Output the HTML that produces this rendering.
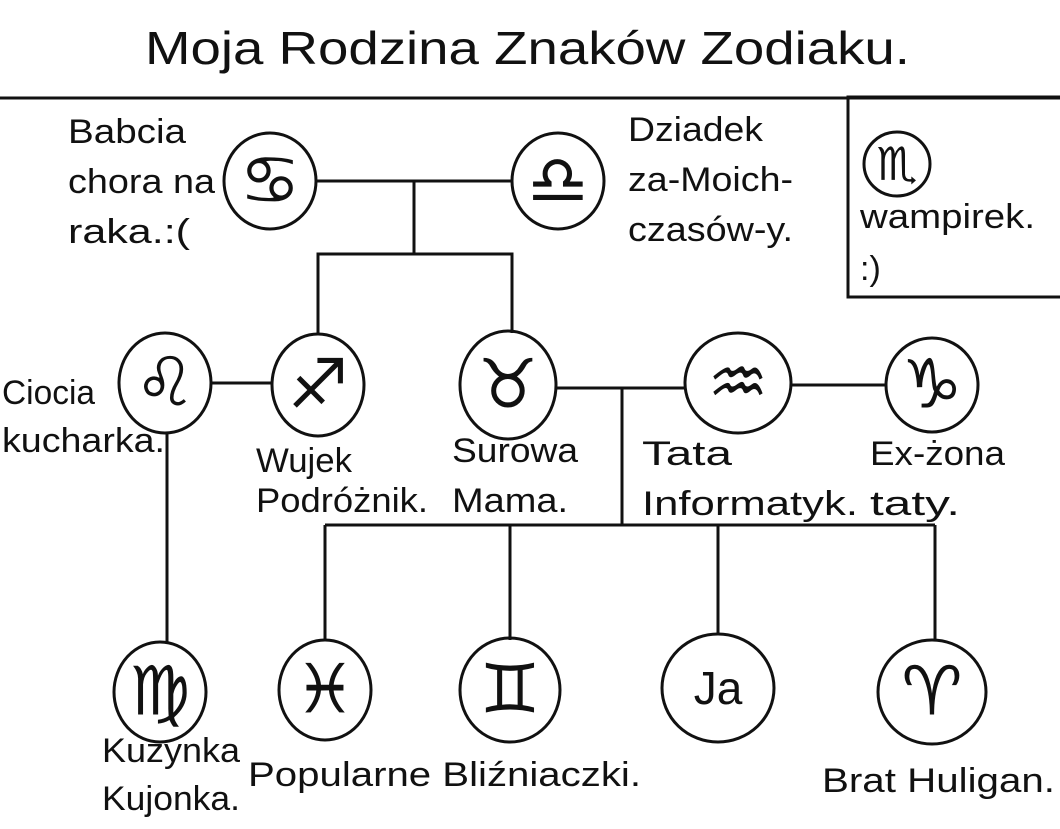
<!DOCTYPE html>
<html><head><meta charset="utf-8"><style>
html,body{margin:0;padding:0;background:#fff;}
svg{display:block}
text{font-family:"Liberation Sans","DejaVu Sans",sans-serif;fill:#111;}
.l{font-size:34px;}
.s{font-family:"DejaVu Sans",sans-serif;font-size:68px;text-anchor:middle;dominant-baseline:central;}
</style></head><body>
<svg width="1060" height="829" viewBox="0 0 1060 829" xmlns="http://www.w3.org/2000/svg">
<g stroke="#111" stroke-width="3" fill="none">
<line x1="0" y1="98" x2="1060" y2="98"/>
<polyline points="1060,97 848,97 848,297 1060,297"/>
<ellipse cx="270" cy="181" rx="46" ry="48"/>
<ellipse cx="558" cy="181" rx="46" ry="48"/>
<line x1="316" y1="181" x2="512" y2="181"/>
<line x1="414" y1="181" x2="414" y2="254"/>
<polyline points="318,335 318,254 512,254 512,333"/>
<ellipse cx="165" cy="383" rx="46" ry="50"/>
<ellipse cx="318" cy="385" rx="46" ry="51"/>
<ellipse cx="508" cy="385" rx="48" ry="54"/>
<ellipse cx="738" cy="383" rx="53" ry="50"/>
<ellipse cx="932" cy="385" rx="46" ry="47"/>
<line x1="211" y1="383" x2="272" y2="383"/>
<line x1="556" y1="388" x2="685" y2="388"/>
<line x1="791" y1="385" x2="886" y2="385"/>
<line x1="622" y1="388" x2="622" y2="525"/>
<line x1="325" y1="525" x2="935" y2="525"/>
<line x1="325" y1="525" x2="325" y2="640"/>
<line x1="510" y1="525" x2="510" y2="640"/>
<line x1="718" y1="525" x2="718" y2="634"/>
<line x1="935" y1="525" x2="935" y2="640"/>
<line x1="167" y1="432" x2="167" y2="642"/>
<ellipse cx="160" cy="692" rx="46" ry="50"/>
<ellipse cx="325" cy="690" rx="46" ry="50"/>
<ellipse cx="510" cy="690" rx="50" ry="52"/>
<ellipse cx="718" cy="688" rx="56" ry="54"/>
<ellipse cx="932" cy="692" rx="54" ry="52"/>
<ellipse cx="897" cy="164" rx="33" ry="32"/>
</g>
<text x="145" y="64" textLength="765" lengthAdjust="spacingAndGlyphs" style="font-size:46px">Moja Rodzina Znaków Zodiaku.</text>
<text class="s" x="270" y="181">♋&#xFE0E;</text>
<text class="s" x="558" y="181">♎&#xFE0E;</text>
<text class="s" x="165" y="383">♌&#xFE0E;</text>
<text class="s" x="318" y="385">♐&#xFE0E;</text>
<text class="s" x="508" y="385">♉&#xFE0E;</text>
<text class="s" x="738" y="383">♒&#xFE0E;</text>
<text class="s" x="932" y="385">♑&#xFE0E;</text>
<text class="s" x="160" y="692">♍&#xFE0E;</text>
<text class="s" x="325" y="690">♓&#xFE0E;</text>
<text class="s" x="510" y="690">♊&#xFE0E;</text>
<text class="s" x="718" y="688" style="font-family:'Liberation Sans',sans-serif;font-size:46px">Ja</text>
<text class="s" x="932" y="692">♈&#xFE0E;</text>
<text class="s" x="897" y="164" style="font-size:46px">♏&#xFE0E;</text>
<g>
<text class="l" x="68" y="143" textLength="118" lengthAdjust="spacingAndGlyphs">Babcia</text>
<text class="l" x="68" y="193" textLength="147" lengthAdjust="spacingAndGlyphs">chora na</text>
<text class="l" x="68" y="243" textLength="122" lengthAdjust="spacingAndGlyphs">raka.:(</text>
<text class="l" x="628" y="141" textLength="135" lengthAdjust="spacingAndGlyphs">Dziadek</text>
<text class="l" x="628" y="191" textLength="165" lengthAdjust="spacingAndGlyphs">za-Moich-</text>
<text class="l" x="628" y="241" textLength="165" lengthAdjust="spacingAndGlyphs">czasów-y.</text>
<text class="l" x="860" y="228" textLength="175" lengthAdjust="spacingAndGlyphs">wampirek.</text>
<text class="l" x="860" y="280">:)</text>
<text class="l" x="2" y="404" textLength="93" lengthAdjust="spacingAndGlyphs">Ciocia</text>
<text class="l" x="2" y="452" textLength="163" lengthAdjust="spacingAndGlyphs">kucharka.</text>
<text class="l" x="256" y="472" textLength="96" lengthAdjust="spacingAndGlyphs">Wujek</text>
<text class="l" x="256" y="512" textLength="172" lengthAdjust="spacingAndGlyphs">Podróżnik.</text>
<text class="l" x="452" y="462" textLength="126" lengthAdjust="spacingAndGlyphs">Surowa</text>
<text class="l" x="452" y="512" textLength="116" lengthAdjust="spacingAndGlyphs">Mama.</text>
<text class="l" x="642" y="465" textLength="90" lengthAdjust="spacingAndGlyphs">Tata</text>
<text class="l" x="642" y="515" textLength="216" lengthAdjust="spacingAndGlyphs">Informatyk.</text>
<text class="l" x="870" y="465" textLength="135" lengthAdjust="spacingAndGlyphs">Ex-żona</text>
<text class="l" x="870" y="515" textLength="90" lengthAdjust="spacingAndGlyphs">taty.</text>
<text class="l" x="102" y="762" textLength="138" lengthAdjust="spacingAndGlyphs">Kuzynka</text>
<text class="l" x="102" y="810" textLength="138" lengthAdjust="spacingAndGlyphs">Kujonka.</text>
<text class="l" x="248" y="786" textLength="393" lengthAdjust="spacingAndGlyphs">Popularne Bliźniaczki.</text>
<text class="l" x="822" y="792" textLength="233" lengthAdjust="spacingAndGlyphs">Brat Huligan.</text>
</g>
</svg>
</body></html>
